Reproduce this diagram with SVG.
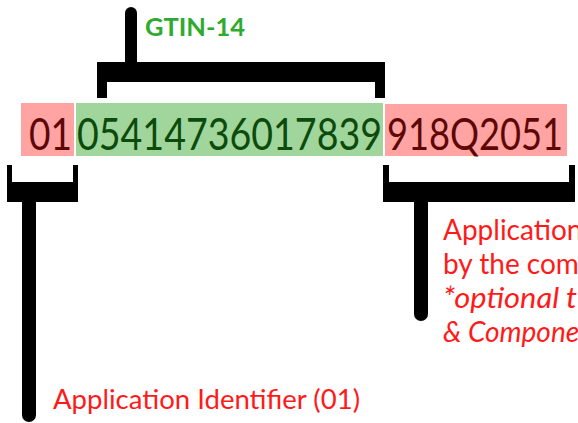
<svg xmlns="http://www.w3.org/2000/svg" width="578" height="423" viewBox="0 0 578 423">
  <style>
    .code { font-family: Lato, "Open Sans", sans-serif; font-size: 44px; }
    .ai { fill: #5e0707; }
    .gtin { fill: #0c4b0c; }
    .label { font-family: Lato, "Open Sans", sans-serif; fill: #ff1a1a; }
    .side { font-size: 28px; }
    .bar { fill: #000000; }
    .stem { stroke: #000000; stroke-linecap: round; fill: none; }
  </style>
  <rect width="578" height="423" fill="#ffffff"/>

  <!-- barcode data string, split into its segments -->
  <g id="segment-ai01">
    <rect x="21" y="103" width="53" height="53" fill="#ffa3a3"/>
    <text class="code ai" x="29" y="150" textLength="43" lengthAdjust="spacingAndGlyphs">01</text>
  </g>
  <g id="segment-gtin">
    <rect x="76" y="103" width="307" height="53" fill="#a0d69c"/>
    <text class="code gtin" x="77" y="150" textLength="305" lengthAdjust="spacingAndGlyphs">05414736017839</text>
  </g>
  <g id="segment-ai91">
    <rect x="385" y="104" width="182" height="52" fill="#ffa3a3"/>
    <text class="code ai" x="387" y="150" textLength="176" lengthAdjust="spacingAndGlyphs">918Q2051</text>
  </g>

  <!-- labels -->
  <g id="label-gtin">
    <text x="145" y="36" font-family="Lato, 'Open Sans', sans-serif" font-size="25" font-weight="bold" fill="#2eab2e" textLength="100" lengthAdjust="spacingAndGlyphs">GTIN-14</text>
  </g>
  <g id="label-ai01">
    <text class="label" x="53" y="409" font-size="26" textLength="307" lengthAdjust="spacingAndGlyphs">Application Identifier (01)</text>
  </g>
  <g id="label-ai91">
    <text class="label side" x="443" y="240">Application</text>
    <text class="label side" x="443" y="274">by the com</text>
    <text class="label side" x="443" y="308" font-style="italic" textLength="134" lengthAdjust="spacingAndGlyphs">*optional t</text>
    <text class="label side" x="443" y="342" font-style="italic">&amp; Compone</text>
  </g>

  <!-- brackets and leader stems -->
  <g id="connectors">
    <!-- GTIN bracket above -->
    <rect class="bar" x="97" y="62" width="288" height="20"/>
    <rect class="bar" x="97" y="82" width="10" height="16"/>
    <rect class="bar" x="375" y="82" width="10" height="16"/>
    <line class="stem" x1="131" y1="13" x2="131" y2="62" stroke-width="12"/>

    <!-- AI (01) bracket below -->
    <rect class="bar" x="7" y="165" width="5" height="18"/>
    <rect class="bar" x="73" y="165" width="5" height="18"/>
    <rect class="bar" x="7" y="182" width="71" height="20"/>
    <line class="stem" x1="29" y1="202" x2="29" y2="415" stroke-width="14"/>

    <!-- AI (91) bracket below -->
    <rect class="bar" x="383" y="165" width="6" height="18"/>
    <rect class="bar" x="569" y="165" width="6" height="18"/>
    <rect class="bar" x="383" y="182" width="192" height="20"/>
    <line class="stem" x1="421" y1="202" x2="421" y2="314" stroke-width="14"/>
  </g>
</svg>
